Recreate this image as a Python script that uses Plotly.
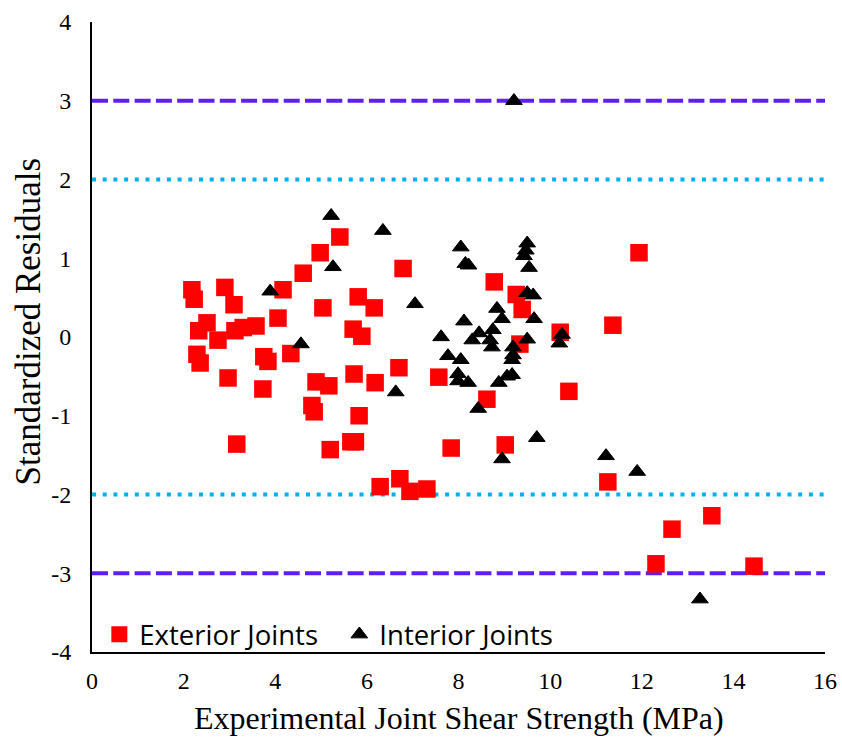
import plotly.graph_objects as go

ext_x = [2.18, 2.23, 2.33, 2.29, 2.36, 2.51, 2.75, 2.90, 2.97, 3.10, 3.12, 3.16, 3.30, 3.58, 3.73, 3.75,
         3.84, 4.06, 4.17, 4.34, 4.61, 4.80, 4.85, 4.89, 4.98, 5.04, 5.17, 5.20, 5.41, 5.65, 5.75, 5.70,
         5.72, 5.81, 5.83, 5.89, 6.16, 6.18, 6.29, 6.70, 6.72, 6.79, 6.94, 7.31, 7.57, 7.84, 8.62, 8.78,
         9.02, 9.26, 9.34, 9.39, 10.22, 10.41, 11.26, 11.37, 11.94, 12.31, 12.66, 13.53, 14.45]
ext_y = [0.60, 0.48, 0.08, -0.22, -0.33, 0.18, -0.04, 0.63, -0.52, 0.41, 0.08, -1.36, 0.12, 0.14, -0.66, -0.25,
         -0.31, 0.24, 0.60, -0.21, 0.81, -0.87, -0.95, -0.57, 1.07, 0.37, -0.62, -1.43, 1.27, -1.33, -1.33, 0.10,
         -0.47, 0.51, -1.00, 0.01, 0.37, -0.58, -1.90, -0.39, -1.80, 0.87, -1.96, -1.93, -0.51, -1.41, -0.79, 0.70,
         -1.37, 0.54, -0.09, 0.35, 0.06, -0.69, -1.84, 0.15, 1.07, -2.88, -2.44, -2.27, -2.91]

int_x = [3.89, 4.56, 5.22, 5.26, 6.35, 6.63, 7.05, 7.62, 7.77, 7.99, 7.99, 8.05, 8.05, 8.12, 8.15, 8.22,
         8.21, 8.30, 8.43, 8.45, 8.69, 8.73, 8.75, 8.84, 8.88, 8.95, 8.95, 9.06, 9.17, 9.17, 9.19, 9.19,
         9.21, 9.43, 9.47, 9.50, 9.54, 9.50, 9.63, 9.65, 9.50, 9.71, 10.26, 10.20, 11.22, 11.90, 13.27]
int_y = [0.58, -0.09, 1.54, 0.89, 1.35, -0.70, 0.42, 0.00, -0.24, -0.47, -0.56, -0.29, 1.14, 0.20, 0.93, 0.91,
         -0.58, -0.04, -0.91, 0.05, -0.04, -0.13, 0.09, 0.36, -0.58, 0.23, -1.55, -0.50, -0.48, -0.29, -0.23, -0.13,
         3.00, 1.03, 1.10, 1.19, 0.88, 0.56, 0.53, 0.23, -0.03, -1.28, 0.03, -0.08, -1.51, -1.71, -3.33]

limit_dash = [3, -3]
limit_dot = [2, -2]
x_ticks = [0, 2, 4, 6, 8, 10, 12, 14, 16]
y_ticks = [4, 3, 2, 1, 0, -1, -2, -3, -4]

fig = go.Figure()
fig.add_trace(go.Scatter(x=ext_x, y=ext_y, mode="markers", name="Exterior Joints",
                         marker=dict(symbol="square", size=17.5, color="#FF0000")))
fig.add_trace(go.Scatter(x=int_x, y=int_y, mode="markers", name="Interior Joints",
                         marker=dict(symbol="triangle-up", size=14.5, color="#000000",
                                     line=dict(color="#000000", width=1))))

for v in limit_dash:
    fig.add_shape(type="line", x0=0, x1=16, y0=v, y1=v, xref="x", yref="y", layer="below",
                  line=dict(color="#5F1FF0", width=4, dash="16px,5.3px"))
for v in limit_dot:
    fig.add_shape(type="line", x0=0, x1=16, y0=v, y1=v, xref="x", yref="y", layer="below",
                  line=dict(color="#00B0F0", width=4, dash="4px,6.7px"))

serif = "Liberation Serif"
fig.update_layout(
    width=842, height=740,
    font=dict(family=serif, color="#000"),
    margin=dict(l=92, r=17, t=22, b=88, autoexpand=False),
    plot_bgcolor="white", paper_bgcolor="white",
    showlegend=True,
    legend=dict(orientation="h", x=0.01, y=0.028, xanchor="left", yanchor="middle",
                font=dict(family="Open Sans", size=27.5, color="#000"),
                bgcolor="rgba(0,0,0,0)", itemwidth=30,
                entrywidth=195, entrywidthmode="pixels"),
    xaxis=dict(range=[0, 16], tickvals=x_ticks, ticktext=[str(v) for v in x_ticks],
               showgrid=False, zeroline=False, showline=True, linecolor="black", linewidth=2,
               ticks="", ticklabelstandoff=6, automargin=False,
               tickfont=dict(family=serif, size=24, color="#000")),
    yaxis=dict(range=[-4, 4], tickvals=y_ticks, ticktext=[str(v) for v in y_ticks],
               showgrid=False, zeroline=False, showline=True, linecolor="black", linewidth=2,
               ticks="", ticklabelstandoff=14, automargin=False,
               tickfont=dict(family=serif, size=24, color="#000")),
    annotations=[
        dict(text="Experimental Joint Shear Strength (MPa)", xref="paper", yref="paper",
             x=0.5, y=-0.105, xanchor="center", yanchor="middle", showarrow=False,
             font=dict(family=serif, size=32, color="#000")),
        dict(text="Standardized Residuals", xref="paper", yref="paper",
             x=-0.087, y=0.525, xanchor="center", yanchor="middle", showarrow=False, textangle=-90,
             font=dict(family=serif, size=35, color="#000")),
    ],
)

fig.write_html("out.html")
